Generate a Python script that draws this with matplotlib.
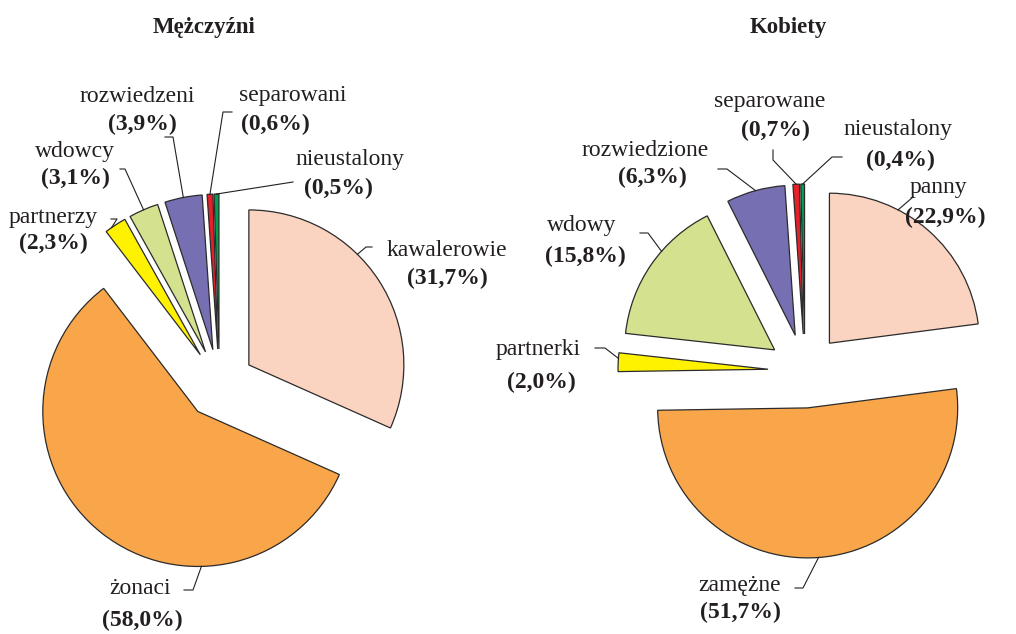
import numpy as np
import matplotlib.pyplot as plt

# -----------------------------
# Data
# -----------------------------
men_labels = ["kawalerowie", "żonaci", "partnerzy", "wdowcy",
              "rozwiedzeni", "separowani", "nieustalony"]
men_values = [31.7, 58.0, 2.3, 3.1, 3.9, 0.6, 0.5]

women_labels = ["panny", "zamężne", "partnerki", "wdowy",
                "rozwiedzione", "separowane", "nieustalony"]
women_values = [22.9, 51.7, 2.0, 15.8, 6.3, 0.7, 0.4]

colors = ["#FBD3C1", "#F9A64A", "#FFF200", "#D4E18F",
          "#7670B3", "#E5202A", "#00A04E"]

H = 634  # figure height in px, used to flip image coords

# label layout (image px coords): name pos, pct pos, leader elbow points,
# anchor fraction measured clockwise from the wedge's start edge
men_layout = [
    ((447, 250), (447, 278), [(366, 247), (372, 247)], 0.39),
    ((140, 588), (142, 620), [(193, 590), (184, 590)], 0.31),
    ((53, 218), (53, 243), [(117, 219), (111, 219)], 0.3),
    ((75, 152), (75, 178), [(125, 169), (120, 169)], 0.5),
    ((137, 96), (142, 124), [(173, 137), (165, 137)], 0.5),
    ((293, 96), (275, 124), [(223, 112), (232, 112)], 0.5),
    ((350, 160), (338, 188), [(293, 182)], 0.5),
]
women_layout = [
    ((938, 188), (945, 217), [(913, 197)], 0.33),
    ((740, 585), (740, 612), [(803, 588), (795, 588)], 0.5),
    ((538, 350), (541, 382), [(605, 348), (595, 348)], 0.7),
    ((582, 225), (585, 256), [(648, 233), (640, 233)], 0.61),
    ((645, 150), (652, 177), [(727, 169), (718, 169)], 0.5),
    ((770, 102), (775, 130), [(773, 160), (773, 150)], 0.5),
    ((898, 130), (900, 160), [(832, 157), (842, 157)], 0.5),
]

plt.rcParams['font.family'] = ['Liberation Serif', 'DejaVu Serif']
txt_color = "#231F20"

fig = plt.figure(figsize=(10.16, 6.34), dpi=100)
ax = fig.add_axes([0, 0, 1, 1])


def draw_pie(values, labels, layout, center, radius, expl):
    # explode is in data units here (axes are in pixels)
    wedges, _ = ax.pie(values, colors=colors, startangle=90, counterclock=False,
                       center=center, radius=radius,
                       explode=[expl] * len(values),
                       wedgeprops=dict(edgecolor="#2b2b2b", linewidth=0.9))
    for w, lab, val, (npos, ppos, elbow, frac) in zip(wedges, labels, values, layout):
        # clockwise pie: start edge is theta2
        ang = np.deg2rad(w.theta2 - frac * (w.theta2 - w.theta1))
        ax0 = w.center[0] + w.r * np.cos(ang)
        ay0 = w.center[1] + w.r * np.sin(ang)
        xs = [ax0] + [p[0] for p in elbow]
        ys = [ay0] + [H - p[1] for p in elbow]
        ax.plot(xs, ys, color="#231F20", lw=0.8)
        ax.text(npos[0], H - npos[1], lab, ha="center", va="center",
                fontsize=17, color=txt_color)
        pct = "(" + f"{val:.1f}".replace(".", ",") + "%)"
        ax.text(ppos[0], H - ppos[1], pct, ha="center", va="center",
                fontsize=17, fontweight="bold", color=txt_color)


draw_pie(men_values, men_labels, men_layout, (219.5, H - 384), 155, 35)
draw_pie(women_values, women_labels, women_layout, (805, H - 371), 150, 37)

ax.text(204, H - 27, "Mężczyźni", ha="center", va="center",
        fontsize=16.5, fontweight="bold", color=txt_color)
ax.text(788, H - 27, "Kobiety", ha="center", va="center",
        fontsize=16.5, fontweight="bold", color=txt_color)

ax.set_xlim(0, 1016)
ax.set_ylim(0, H)
ax.set_aspect("equal")
ax.axis("off")

fig.savefig("out.png", dpi=100)
